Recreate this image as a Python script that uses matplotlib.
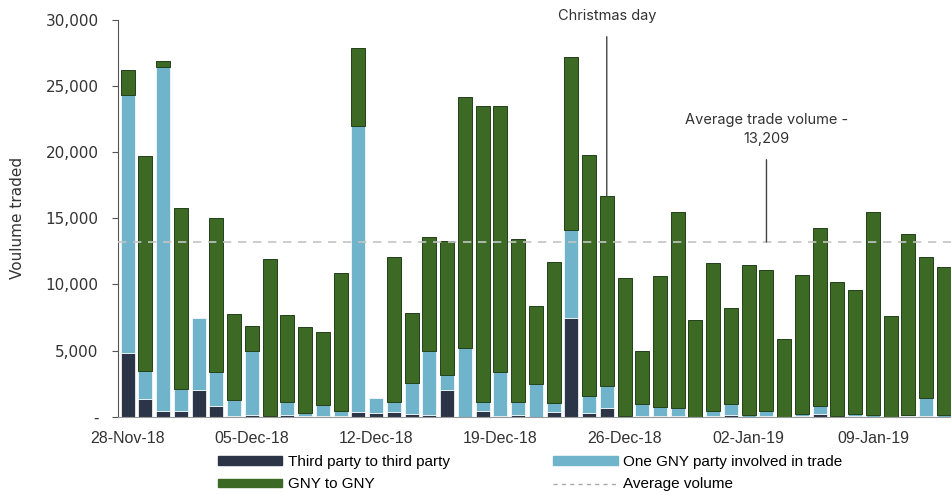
import numpy as np
import pandas as pd
import matplotlib
matplotlib.use("Agg")
import matplotlib.pyplot as plt
from matplotlib.patches import Patch
from matplotlib.lines import Line2D
from matplotlib.ticker import FuncFormatter

# volumen diario por tipo de contraparte, desde el 28-Nov-18
fechas = pd.date_range("2018-11-28", periods=47, freq="D")

tercero_tercero = [4800, 1350, 450, 450, 2050, 850, 50, 100, 0, 100, 50, 50, 50, 350,
                   250, 350, 200, 100, 2050, 0, 450, 50, 150, 0, 330, 7450, 250, 700,
                   0, 50, 50, 50, 0, 50, 150, 0, 50, 0, 50, 200, 0, 50, 0, 0, 50, 50, 0]
un_gny = [19500, 2100, 25950, 1650, 5400, 2550, 1200, 4900, 50, 1050, 200, 850, 400, 21600,
          1150, 800, 2350, 4900, 1100, 5200, 700, 3300, 1000, 2450, 700, 6700, 1300, 1650,
          50, 900, 700, 600, 0, 400, 850, 100, 400, 0, 150, 650, 50, 150, 150, 0, 100, 1350, 100]
gny_gny = [1900, 16250, 500, 13700, 0, 11650, 6550, 1850, 11850, 6550, 6530, 5500, 10400, 5950,
           0, 10950, 5300, 8550, 10100, 19000, 22300, 20150, 12250, 5950, 10650, 13050, 18250, 14350,
           10450, 4000, 9900, 14800, 7350, 11200, 7200, 11400, 10650, 5900, 10550, 13450, 10150, 9350,
           15300, 7650, 13700, 10650, 11250]

volumen_promedio = 13209
navidad = pd.Timestamp("2018-12-25")

c_oscuro = "#2b3547"
c_azul = "#70b4cc"
c_verde = "#3c6a24"

plt.rcParams["font.family"] = ["Liberation Sans", "DejaVu Sans"]

fig = plt.figure(figsize=(9.51, 4.95), dpi=100)
ax = fig.add_axes([0.124, 0.158, 0.876, 0.802])

x = np.arange(len(fechas))
t = np.array(tercero_tercero)
u = np.array(un_gny)
g = np.array(gny_gny)
ancho = 0.79

ax.bar(x, t, ancho, color=c_oscuro, edgecolor="white", linewidth=np.where(t > 0, 0.5, 0), zorder=2)
ax.bar(x, u, ancho, bottom=t, color=c_azul, edgecolor="white", linewidth=np.where(u > 0, 0.5, 0), zorder=2)
ax.bar(x, g, ancho, bottom=t + u, color=c_verde, edgecolor="#22401a",
       linewidth=np.where(g > 0, 0.7, 0), zorder=2)

ax.axhline(volumen_promedio, color="#c4c4c4", lw=1.2, ls=(0, (5, 4)), zorder=3)

total = t + u + g
i_nav = int(np.where(fechas == navidad)[0][0])
ax.annotate("Christmas day", xy=(i_nav, total[i_nav]), xytext=(i_nav, 30300),
            ha="center", va="center", fontsize=10.5, family=["Inter", "DejaVu Sans"],
            color="#333333", annotation_clip=False,
            arrowprops=dict(arrowstyle="-", color="#444444", lw=1.0, shrinkA=8, shrinkB=0))
ax.annotate("Average trade volume -\n" + f"{volumen_promedio:,}", xy=(36, volumen_promedio),
            xytext=(36, 21700), ha="center", va="center", fontsize=10.5,
            family=["Inter", "DejaVu Sans"], color="#333333", linespacing=1.4,
            arrowprops=dict(arrowstyle="-", color="#444444", lw=1.0, shrinkA=8, shrinkB=0))

ax.set_xlim(-0.55, 46.4)
ax.set_ylim(0, 30000)
ax.set_yticks(np.arange(0, 30001, 5000))
ax.yaxis.set_major_formatter(FuncFormatter(lambda v, p: "-" if v == 0 else f"{v:,.0f}"))
ticks_x = x[::7]
ax.set_xticks(ticks_x)
ax.set_xticklabels([fechas[i].strftime("%d-%b-%y") for i in ticks_x])

for s in ["top", "right"]:
    ax.spines[s].set_visible(False)
ax.spines["left"].set_color("#555555")
ax.spines["bottom"].set_color("#999999")
ax.tick_params(axis="y", length=4, color="#555555", pad=10, labelsize=11, labelcolor="#333333")
for lab in ax.get_yticklabels():
    lab.set_family(["DejaVu Sans"])
ax.tick_params(axis="x", length=0, pad=10, labelsize=11.5, labelcolor="#333333")
ax.set_ylabel("Voulume traded", fontsize=11, family=["DejaVu Sans"], color="#333333")
ax.yaxis.set_label_coords(-0.112, 0.5)

handles = [Patch(color=c_oscuro), Patch(color=c_verde),
           Patch(color=c_azul), Line2D([], [], color="#aaaaaa", lw=1, ls=(0, (3, 3)))]
labels = ["Third party to third party", "GNY to GNY",
          "One GNY party involved in trade", "Average volume"]
fig.legend(handles, labels, ncol=2, loc="upper left", bbox_to_anchor=(218 / 951, 1 - 455 / 495),
           frameon=False, fontsize=11, handlelength=4.2, handleheight=0.45, handletextpad=0.35,
           labelspacing=0.55, columnspacing=6.8, borderpad=0, borderaxespad=0)

fig.savefig("out.png", dpi=100)
